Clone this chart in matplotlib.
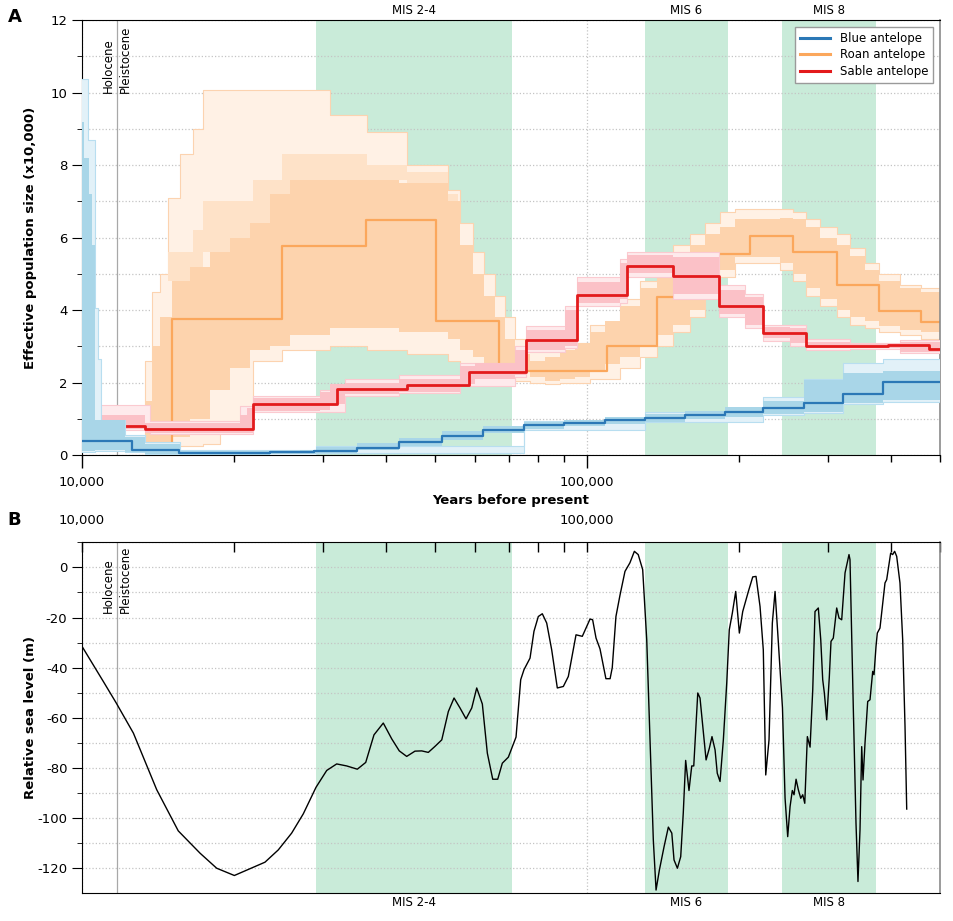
import numpy as np
import matplotlib
matplotlib.use('Agg')
import matplotlib.pyplot as plt
from matplotlib.ticker import FixedLocator, FixedFormatter, NullFormatter
import matplotlib.transforms as mtransforms
from matplotlib.lines import Line2D

plt.rcParams['font.family'] = ['DejaVu Sans']
plt.rcParams['axes.unicode_minus'] = False

X_END = 500.0  # kyr, right limit of the time axis

# ---------------- Panel A: PSMC step curves (times in kyr, Ne in x10,000) ----------------
blue_t = [10.0, 12.56, 15.56, 23.57, 28.80, 35.04, 42.43, 51.64, 62.24, 75.03, 90.04,
          108.5, 130.3, 156.4, 187.6, 223.6, 269.0, 322.0, 385.6]
blue_ne = [0.39, 0.13, 0.063, 0.09, 0.12, 0.20, 0.35, 0.52, 0.69, 0.82, 0.89,
           0.96, 1.03, 1.10, 1.19, 1.29, 1.43, 1.68, 2.01]

roan_t = [10.0, 15.07, 24.89, 36.51, 50.23, 66.95, 109.5, 137.6, 170.1, 210.3, 255.8,
          312.6, 378.6, 458.6]
roan_ne = [0.26, 3.74, 5.77, 6.47, 3.70, 2.31, 3.02, 4.36, 5.54, 6.05, 5.59,
           4.69, 3.97, 3.68]

sable_t = [10.0, 13.30, 21.81, 31.99, 44.01, 58.40, 75.72, 95.55, 120.0, 148.0, 182.5,
           223.1, 271.5, 328.7, 394.5, 475.6]
sable_ne = [0.81, 0.71, 1.40, 1.81, 1.92, 2.28, 3.17, 4.41, 5.22, 4.95, 4.11,
            3.36, 3.02, 3.00, 3.03, 2.92]

# bootstrap envelopes: dense core and outer range
blue_core_t = [10.0, 10.09, 10.32, 10.47, 10.61, 12.17, 13.33, 15.63, 19.64, 23.57, 27.03,
               29.07, 35.04, 42.43, 51.64, 62.24, 75.03, 90.04, 108.5, 130.3, 156.4,
               187.6, 223.6, 269.0, 321.3, 385.6]
blue_core_lo = [0.10, 0.10, 0.10, 0.10, 0.13, 0.08, 0.03, 0.0, 0.0, 0.02, 0.03,
                0.06, 0.13, 0.26, 0.42, 0.60, 0.73, 0.80, 0.86, 0.92, 0.98,
                1.05, 1.12, 1.19, 1.43, 1.52]
blue_core_hi = [9.19, 8.2, 7.2, 5.8, 0.97, 0.50, 0.30, 0.12, 0.10, 0.12, 0.15,
                0.22, 0.32, 0.48, 0.66, 0.80, 0.90, 0.97, 1.05, 1.12, 1.22,
                1.33, 1.50, 2.07, 2.25, 2.33]
blue_out_t = [10.0, 10.28, 10.61, 10.76, 10.90, 12.17, 13.33, 15.63, 29.07, 75.03,
              130.3, 223.6, 269.0, 321.3, 385.6]
blue_out_lo = [0.08, 0.08, 0.10, 0.10, 0.12, 0.07, 0.02, 0.0, 0.05, 0.70,
               0.90, 1.10, 1.15, 1.40, 1.45]
blue_out_hi = [10.37, 8.7, 4.06, 2.65, 0.97, 0.55, 0.35, 0.15, 0.25, 0.95,
               1.20, 1.60, 2.10, 2.55, 2.66]

roan_core_t = [10.0, 13.33, 13.76, 14.27, 15.07, 16.36, 17.92, 19.64, 21.51, 23.57, 25.82,
               30.98, 42.53, 53.07, 56.05, 59.47, 62.53, 65.73, 68.81, 72.02, 77.12,
               82.57, 88.44, 94.68, 101.4, 108.5, 116.2, 127.4, 137.6, 148.0, 160.0,
               171.3, 183.4, 196.4, 241.1, 255.8, 271.5, 289.3, 312.6, 331.7, 355.2,
               378.6, 416.6, 458.6]
roan_core_lo = [0.20, 0.30, 0.30, 0.35, 0.50, 1.0, 1.8, 2.4, 2.9, 3.0, 3.3,
                3.5, 3.4, 3.2, 2.9, 2.7, 2.5, 2.45, 2.4, 2.3, 2.15,
                2.05, 2.1, 2.15, 2.3, 2.5, 2.7, 3.0, 3.3, 3.6, 4.0,
                4.6, 5.1, 5.45, 5.3, 5.0, 4.6, 4.3, 4.0, 3.8, 3.7,
                3.55, 3.45, 3.4]
roan_core_hi = [0.33, 1.5, 3.0, 3.8, 4.8, 5.2, 5.6, 6.0, 6.4, 7.2, 7.6,
                7.6, 7.5, 7.0, 5.8, 5.0, 4.4, 3.8, 3.2, 2.8, 2.6,
                2.7, 2.9, 3.1, 3.4, 3.7, 4.1, 4.6, 5.2, 5.5, 5.8,
                6.1, 6.3, 6.5, 6.55, 6.5, 6.3, 6.0, 5.8, 5.5, 5.1,
                4.8, 4.6, 4.5]
roan_out_t = [10.0, 13.33, 13.76, 14.27, 14.80, 15.63, 16.59, 17.36, 18.76, 21.81, 24.89,
              30.98, 36.60, 44.01, 53.07, 56.05, 59.47, 62.53, 65.73, 68.81, 72.02,
              77.12, 82.57, 88.44, 101.4, 116.2, 127.4, 137.6, 148.0, 160.0, 171.3,
              183.4, 196.4, 241.1, 255.8, 271.5, 289.3, 312.6, 331.7, 355.2, 378.6,
              416.6, 458.6]
roan_out_lo = [0.18, 0.20, 0.20, 0.25, 0.25, 0.25, 0.25, 0.30, 0.90, 2.6, 2.9,
               3.0, 2.9, 2.8, 2.6, 2.5, 2.4, 2.3, 2.2, 2.1, 2.05,
               2.0, 1.95, 2.0, 2.1, 2.4, 2.7, 3.0, 3.4, 3.8, 4.4,
               4.9, 5.3, 5.1, 4.8, 4.4, 4.1, 3.8, 3.6, 3.5, 3.4,
               3.3, 3.2]
roan_out_hi = [0.40, 2.6, 4.5, 5.0, 7.1, 8.3, 9.0, 10.07, 10.07, 10.07, 10.07,
               9.38, 8.9, 8.0, 7.3, 6.4, 5.6, 5.0, 4.4, 3.8, 3.2,
               2.9, 2.9, 3.1, 3.6, 4.3, 4.8, 5.5, 5.8, 6.1, 6.4,
               6.7, 6.8, 6.8, 6.7, 6.5, 6.3, 6.1, 5.7, 5.3, 5.0,
               4.7, 4.6]
# moderately dense band of roan bootstrap lines above the core
roan_mid_t = [14.80, 16.59, 17.36, 21.81, 24.89, 30.98, 36.60, 44.01, 53.07]
roan_mid_lo = [4.8, 5.2, 5.6, 6.4, 7.2, 7.6, 7.6, 7.5, 7.0]
roan_mid_hi = [5.6, 6.2, 7.0, 7.6, 8.3, 8.3, 8.0, 7.8, 7.2]

sable_core_t = [10.0, 13.33, 20.55, 21.22, 21.81, 29.61, 30.98, 33.17, 42.53, 56.05, 60.0,
                72.02, 75.72, 90.44, 95.55, 116.2, 120.0, 148.0, 182.5, 205.6, 223.1,
                252.4, 271.5, 331.7, 416.6]
sable_core_lo = [0.72, 0.60, 0.60, 0.62, 1.22, 1.25, 1.40, 1.68, 1.75, 1.95, 2.10,
                 2.20, 2.90, 3.00, 4.18, 4.30, 5.01, 4.45, 3.90, 3.60, 3.23,
                 3.10, 2.95, 2.95, 2.85]
sable_core_hi = [1.10, 0.88, 1.10, 1.30, 1.57, 1.75, 1.95, 2.00, 2.10, 2.45, 2.55,
                 2.90, 3.45, 4.00, 4.78, 5.30, 5.52, 5.45, 4.55, 4.36, 3.53,
                 3.50, 3.12, 3.05, 3.12]
sable_out_t = [10.0, 13.63, 20.55, 21.81, 29.61, 33.17, 42.53, 56.05, 72.02, 75.72, 90.44,
               95.55, 116.2, 120.0, 148.0, 182.5, 205.6, 223.1, 252.4, 271.5, 331.7, 416.6]
sable_out_lo = [0.70, 0.58, 0.58, 1.18, 1.20, 1.62, 1.72, 1.90, 2.15, 2.85, 2.95,
                4.10, 4.20, 4.90, 4.30, 3.80, 3.50, 3.15, 3.00, 2.90, 2.92, 2.82]
sable_out_hi = [1.38, 0.95, 1.35, 1.62, 1.80, 2.10, 2.20, 2.55, 3.00, 3.55, 4.10,
                4.90, 5.40, 5.60, 5.60, 4.70, 4.45, 3.60, 3.60, 3.20, 3.10, 3.18]

# ---------------- Panel B: relative sea level (age kyr, metres) ----------------
sea_age = [10.0, 11.02, 11.69, 12.64, 14.06, 15.51, 17.13, 18.48, 20.03, 23.03, 24.47,
           26.01, 27.43, 29.07, 30.52, 31.94, 33.43, 35.09, 36.46, 37.86, 39.50,
           41.05, 42.49, 43.95, 45.64, 47.06, 48.50, 50.0, 51.57, 53.14, 54.54,
           56.05, 57.60, 59.12, 60.48, 62.05, 63.48, 65.06, 66.56, 67.97, 69.86,
           72.35, 73.91, 75.03, 77.12, 78.52, 80.09, 81.56, 83.21, 85.13, 87.34,
           89.77, 91.84, 95.11, 97.88, 101.4, 102.6, 104.2, 106.1, 109.0, 111.1,
           112.2, 114.1, 116.2, 118.9, 121.6, 124.1, 126.3, 128.9, 131.3, 133.3,
           135.3, 137.0, 139.1, 142.1, 144.9, 147.2, 148.7, 151.0, 153.3, 155.1,
           156.8, 159.2, 161.2, 162.7, 165.7, 167.4, 172.1, 174.7, 176.8, 179.3,
           181.1, 183.4, 186.2, 189.1, 191.3, 194.0, 197.0, 200.3, 203.4, 208.7,
           212.9, 216.1, 220.1, 223.4, 225.9, 229.3, 232.8, 235.7, 238.5, 243.8,
           246.7, 249.7, 252.4, 255.0, 257.0, 259.4, 262.1, 265.0, 267.4, 269.9,
           273.1, 276.5, 279.9, 282.8, 287.1, 290.3, 292.9, 295.1, 298.3, 301.9,
           304.2, 307.4, 312.2, 315.5, 319.4, 324.3, 330.2, 331.7, 336.7, 340.9,
           344.0, 347.2, 349.9, 352.0, 355.2, 359.6, 363.4, 367.9, 370.1, 373.5,
           375.7, 380.3, 389.1, 392.1, 399.3, 402.9, 406.6, 410.4, 416.6, 421.8,
           426.3, 429.6]
sea_level = [-31.5, -45.5, -54.1, -66.1, -88.7, -105.1, -114.0, -120.0, -122.9, -117.6, -112.7,
             -106.0, -98.3, -87.7, -81.0, -78.4, -79.2, -80.5, -77.8, -66.8, -62.1,
             -68.4, -73.2, -75.4, -73.3, -73.2, -73.8, -71.4, -68.8, -57.5, -52.1,
             -56.1, -60.4, -56.1, -48.1, -54.5, -74.1, -84.5, -84.5, -78.1, -75.7,
             -67.7, -44.8, -40.8, -36.2, -25.5, -19.6, -18.5, -22.2, -32.9, -48.1,
             -47.5, -43.5, -26.9, -27.5, -20.6, -20.9, -28.2, -32.5, -44.4, -44.4,
             -40.0, -19.6, -11.2, -1.6, 1.8, 6.4, 5.1, -0.9, -28.9, -68.8,
             -108.7, -128.7, -120.7, -111.4, -103.6, -106.0, -116.7, -120.0, -115.4, -98.0,
             -77.0, -89.0, -79.2, -79.2, -50.1, -52.1, -76.8, -72.1, -67.5, -72.8,
             -82.1, -85.4, -68.8, -46.1, -24.9, -18.2, -9.6, -26.2, -17.6, -9.6,
             -3.8, -3.6, -15.6, -32.9, -82.8, -68.8, -22.2, -9.6, -25.5, -56.0,
             -92.0, -107.4, -95.4, -89.0, -90.7, -84.5, -88.7, -92.1, -90.7, -94.1,
             -67.5, -71.7, -48.8, -17.6, -16.2, -28.9, -44.8, -50.1, -60.8, -43.5,
             -29.5, -28.2, -16.2, -20.2, -20.9, -2.2, 5.1, 3.1, -55.5, -102.0,
             -125.3, -104.7, -71.5, -84.8, -70.1, -53.5, -52.8, -41.5, -42.8, -31.5,
             -26.2, -24.2, -6.2, -4.9, 5.7, 5.1, 6.4, 4.4, -6.2, -28.9,
             -63.5, -96.4]

# Marine isotope stages (kyr)
mis_names = ['MIS 2-4', 'MIS 6', 'MIS 8']
mis_start = [29.07, 130.3, 243.3]
mis_end = [71.04, 190.2, 373.5]
holocene_boundary = 11.73

species = ['Blue antelope', 'Roan antelope', 'Sable antelope']
main_colors = ['#2b78b6', '#fba75c', '#e31a1c']
core_colors = ['#a9d6e8', '#fdd3ad', '#fbc1c7']
out_colors = ['#e2f1f8', '#fff1e5', '#feeaec']
edge_colors = ['#b8def0', '#fcd3b0', '#fbcad0']


def stairs(t_kyr, vals):
    x = np.array(list(t_kyr) + [X_END]) * 1000.0
    y = np.array(list(vals) + [vals[-1]])
    return x, y


fig = plt.figure(figsize=(9.54, 9.21), dpi=100)
axA = fig.add_axes([0.08595, 0.50597, 0.89937, 0.47231])
axB = fig.add_axes([0.08595, 0.03008, 0.89937, 0.3811])

for ax in (axA, axB):
    ax.set_xscale('log')
    ax.set_xlim(10000, X_END * 1000)
    for s, e in zip(mis_start, mis_end):
        ax.axvspan(s * 1000, e * 1000, color='#c9ebd9', lw=0, zorder=0)
    ax.axvline(holocene_boundary * 1000, color='#a8a8a8', lw=0.9, zorder=0.8)
    ax.set_axisbelow(True)
    ax.spines['right'].set_color('#8a8a8a')
    ax.spines['right'].set_linewidth(1.2)

# ---- Panel A ----
groups = [
    (blue_out_t, blue_out_lo, blue_out_hi, blue_core_t, blue_core_lo, blue_core_hi, blue_t, blue_ne),
    (roan_out_t, roan_out_lo, roan_out_hi, roan_core_t, roan_core_lo, roan_core_hi, roan_t, roan_ne),
    (sable_out_t, sable_out_lo, sable_out_hi, sable_core_t, sable_core_lo, sable_core_hi, sable_t, sable_ne),
]
# draw order: roan, sable, blue (blue on top)
order = [1, 2, 0]
z = 2
for i in order:
    ot, olo, ohi, ct, clo, chi, mt, mv = groups[i]
    x, lo = stairs(ot, olo)
    _, hi = stairs(ot, ohi)
    axA.fill_between(x, lo, hi, step='post', color=out_colors[i], lw=0, zorder=z)
    axA.step(x, lo, where='post', color=edge_colors[i], lw=0.8, zorder=z + 0.1)
    axA.step(x, hi, where='post', color=edge_colors[i], lw=0.8, zorder=z + 0.1)
    if i == 1:
        xm, mlo = stairs(roan_mid_t, roan_mid_lo)
        _, mhi = stairs(roan_mid_t, roan_mid_hi)
        xm = np.append(xm[:-1], 55.5 * 1000)
        axA.fill_between(xm, mlo, mhi, step='post', color='#fee2c8', lw=0, zorder=z + 0.15)
    x, lo = stairs(ct, clo)
    _, hi = stairs(ct, chi)
    axA.fill_between(x, lo, hi, step='post', color=core_colors[i], lw=0, zorder=z + 0.2)
    x, y = stairs(mt, mv)
    lw = 2.0 if i == 2 else 1.6
    axA.step(x, y, where='post', color=main_colors[i], lw=lw, zorder=z + 0.3)
    z += 1

axA.set_ylim(0, 12)
axA.xaxis.set_major_locator(FixedLocator([1e4, 1e5]))
axA.xaxis.set_major_formatter(FixedFormatter(['10,000', '100,000']))
minor_x = [2e4, 3e4, 4e4, 5e4, 6e4, 7e4, 8e4, 9e4, 2e5, 3e5, 4e5, 5e5]
axA.xaxis.set_minor_locator(FixedLocator(minor_x))
axA.xaxis.set_minor_formatter(NullFormatter())
axA.tick_params(axis='x', which='major', length=9, width=1, direction='out', pad=6, labelsize=9.5)
axA.tick_params(axis='x', which='minor', length=5, width=1, direction='out')
axA.set_yticks([0, 2, 4, 6, 8, 10, 12])
axA.set_yticks([1, 3, 5, 7, 9, 11], minor=True)
axA.tick_params(axis='y', which='major', length=7, direction='out', labelsize=9.5)
axA.tick_params(axis='y', which='minor', length=3.6, direction='out')
axA.grid(axis='y', which='both', linestyle=':', color='#c4c4c4', lw=0.9)
axA.grid(axis='x', which='major', linestyle=':', color='#c4c4c4', lw=0.9)
axA.set_xlabel('Years before present', fontsize=9.5, fontweight='bold', labelpad=4)
axA.set_ylabel('Effective population size (x10,000)', fontsize=9.5, fontweight='bold')
axA.yaxis.set_label_coords(-0.052, 0.5)

handles = [Line2D([], [], color=c, lw=2.2) for c in main_colors]
leg = axA.legend(handles, species, loc='upper right', fontsize=8.5, frameon=True,
                 fancybox=False, edgecolor='#9a9a9a', framealpha=1,
                 handlelength=2.6, borderaxespad=0.6, labelspacing=0.3)
leg.get_frame().set_linewidth(1.0)
leg.set_zorder(10)

transA = mtransforms.blended_transform_factory(axA.transData, axA.transAxes)
for name, s, e in zip(mis_names, mis_start, mis_end):
    axA.text(np.sqrt(s * e) * 1000, 1.008, name, transform=transA, ha='center',
             va='bottom', fontsize=8.5)
axA.text(holocene_boundary * 1000 * 0.992, 10.0, 'Holocene', rotation=90, ha='right',
         va='bottom', fontsize=8.5, zorder=9)
axA.text(holocene_boundary * 1000 * 1.008, 10.0, 'Pleistocene', rotation=90, ha='left',
         va='bottom', fontsize=8.5, zorder=9)

# ---- Panel B ----
axB.plot(np.array(sea_age) * 1000, sea_level, color='black', lw=1.0, zorder=3)
axB.set_ylim(-130, 10)
axB.xaxis.tick_top()
axB.xaxis.set_label_position('top')
axB.xaxis.set_major_locator(FixedLocator([1e4, 1e5]))
axB.xaxis.set_major_formatter(FixedFormatter(['10,000', '100,000']))
axB.xaxis.set_minor_locator(FixedLocator(minor_x))
axB.xaxis.set_minor_formatter(NullFormatter())
axB.tick_params(axis='x', which='both', direction='in', length=7, width=1, pad=11,
                labelsize=9.5, top=True, bottom=False)
axB.set_yticks([-120, -100, -80, -60, -40, -20, 0])
axB.set_yticks([-110, -90, -70, -50, -30, -10, 10], minor=True)
axB.tick_params(axis='y', which='major', length=7, direction='out', labelsize=9.5)
axB.tick_params(axis='y', which='minor', length=3.6, direction='out')
axB.grid(axis='y', which='both', linestyle=':', color='#c4c4c4', lw=0.9)
axB.grid(axis='x', which='major', linestyle=':', color='#c4c4c4', lw=0.9)
axB.set_ylabel('Relative sea level (m)', fontsize=9.5, fontweight='bold')
axB.yaxis.set_label_coords(-0.052, 0.5)

transB = mtransforms.blended_transform_factory(axB.transData, axB.transAxes)
for name, s, e in zip(mis_names, mis_start, mis_end):
    axB.text(np.sqrt(s * e) * 1000, -0.008, name, transform=transB, ha='center',
             va='top', fontsize=8.5)
axB.text(holocene_boundary * 1000 * 0.992, -18, 'Holocene', rotation=90, ha='right',
         va='bottom', fontsize=8.5)
axB.text(holocene_boundary * 1000 * 1.008, -18, 'Pleistocene', rotation=90, ha='left',
         va='bottom', fontsize=8.5)

fig.text(0.008, 1 - 8 / 921, 'A', fontsize=13, fontweight='bold', va='top', ha='left')
fig.text(0.008, 1 - 511 / 921, 'B', fontsize=13, fontweight='bold', va='top', ha='left')

fig.savefig('out.png', dpi=100)
